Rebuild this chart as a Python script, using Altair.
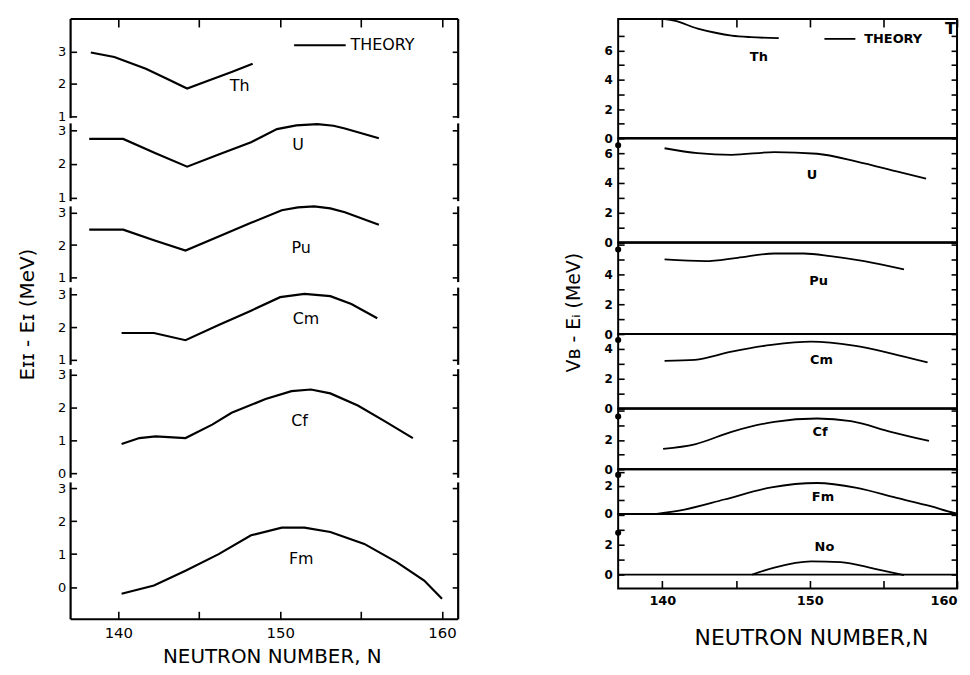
import altair as alt
import pandas as pd

FONT = "DejaVu Sans"

x_ticks = [140, 145, 150, 155, 160]

# ---------------- Left panel: E_II - E_I (MeV) ----------------
th_l_n = [138.3, 139.75, 141.7, 143.0, 144.25, 145.5, 147.0, 148.3]
th_l_e = [2.97, 2.83, 2.47, 2.16, 1.86, 2.09, 2.37, 2.62]
u_l_n = [138.2, 140.3, 142.3, 144.25, 146.2, 148.2, 149.8, 151.0, 152.3, 153.3, 154.0, 156.1]
u_l_e = [2.74, 2.74, 2.32, 1.92, 2.28, 2.64, 3.03, 3.14, 3.18, 3.13, 3.05, 2.76]
pu_l_n = [138.2, 140.3, 142.2, 144.15, 146.2, 148.2, 150.1, 151.1, 152.1, 153.1, 154.0, 156.1]
pu_l_e = [2.48, 2.48, 2.15, 1.83, 2.27, 2.69, 3.08, 3.17, 3.2, 3.14, 3.02, 2.63]
cm_l_n = [140.2, 142.2, 144.15, 146.2, 148.2, 150.0, 151.5, 153.1, 154.4, 156.0]
cm_l_e = [1.82, 1.82, 1.6, 2.06, 2.5, 2.91, 3.01, 2.94, 2.7, 2.27]
cf_l_n = [140.2, 141.3, 142.3, 144.15, 145.8, 147.0, 149.1, 150.7, 151.9, 153.1, 154.8, 156.4, 158.2]
cf_l_e = [0.89, 1.07, 1.12, 1.07, 1.48, 1.84, 2.26, 2.5, 2.55, 2.43, 2.06, 1.6, 1.07]
fm_l_n = [140.2, 142.2, 144.15, 146.2, 148.2, 150.1, 151.5, 153.1, 155.2, 157.2, 158.9, 160.0]
fm_l_e = [-0.2, 0.05, 0.5, 1.0, 1.57, 1.8, 1.8, 1.67, 1.31, 0.76, 0.2, -0.35]

left_names = ["Th", "U", "Pu", "Cm", "Cf", "Fm"]
left_label_n = [147.5, 151.1, 151.3, 151.6, 151.2, 151.3]
left_label_e = [1.94, 2.55, 1.92, 2.23, 1.58, 0.84]
left_lo = [0.85, 0.82, 0.75, 0.79, -0.21, -0.97]
left_hi = [4.0, 3.26, 3.28, 3.27, 3.24, 3.24]
left_yticks = [[1, 2, 3], [1, 2, 3], [1, 2, 3], [1, 2, 3], [0, 1, 2, 3], [0, 1, 2, 3]]
left_frame_lo = [0.95, 0.9, 0.85, 0.85, -0.14, -0.97]
left_frame_hi = [4.0, 3.2, 3.2, 3.2, 3.17, 3.17]
left_theory_n = [150.86, 154.05]
left_theory_e = [3.19]
left_theory_text_n = [154.35]

# ---------------- Right panel: V_B - E_i (MeV) ----------------
th_r_n = [140.15, 140.8, 142.4, 143.6, 144.7, 146.0, 147.9]
th_r_v = [8.15, 8.05, 7.5, 7.22, 7.03, 6.92, 6.85]
u_r_n = [140.15, 142.4, 144.7, 147.6, 150.5, 153.2, 155.9, 157.9]
u_r_v = [6.33, 6.0, 5.89, 6.07, 5.96, 5.44, 4.78, 4.29]
pu_r_n = [140.15, 142.9, 145.1, 147.6, 149.6, 151.4, 153.7, 156.4]
pu_r_v = [5.0, 4.89, 5.11, 5.4, 5.4, 5.23, 4.89, 4.33]
cm_r_n = [140.15, 142.2, 144.7, 147.4, 150.1, 153.0, 155.5, 158.0]
cm_r_v = [3.2, 3.27, 3.82, 4.27, 4.49, 4.22, 3.71, 3.09]
cf_r_n = [140.05, 142.2, 144.7, 147.6, 150.5, 152.8, 155.5, 158.1]
cf_r_v = [1.39, 1.7, 2.56, 3.24, 3.47, 3.29, 2.56, 1.93]
fm_r_n = [139.6, 141.5, 144.2, 147.4, 150.5, 153.2, 155.9, 158.2, 159.8, 160.0]
fm_r_v = [0.0, 0.31, 1.03, 1.9, 2.21, 1.86, 1.14, 0.55, 0.07, 0.03]
no_r_n = [146.1, 147.6, 150.1, 152.1, 154.35, 156.4]
no_r_v = [0.0, 0.47, 0.89, 0.84, 0.4, -0.04]

right_names = ["Th", "U", "Pu", "Cm", "Cf", "Fm", "No"]
right_label_n = [146.55, 150.15, 150.6, 150.8, 150.7, 150.9, 151.0]
right_label_v = [5.58, 4.55, 3.58, 3.27, 2.56, 1.19, 1.84]
right_lo = [0.0, 0.0, 0.0, 0.0, 0.0, 0.0, -0.93]
right_hi = [8.16, 7.0, 6.13, 5.0, 4.15, 3.2, 4.07]
right_yticks = [[0, 1, 2, 3, 4, 5, 6, 7], [0, 1, 2, 3, 4, 5, 6], [0, 1, 2, 3, 4, 5, 6],
                [0, 1, 2, 3, 4], [0, 1, 2, 3, 4], [0, 1, 2, 3], [0, 1, 2, 3, 4]]
right_ylabels = [[0, 2, 4, 6], [0, 2, 4, 6], [0, 2, 4], [0, 2, 4], [0, 2], [0, 2], [0, 2]]
right_dots = [None, 6.53, 5.67, 4.6, 3.6, 2.79, 2.8]
right_theory_n = [151.0, 153.1]
right_theory_v = [6.8]
right_theory_text_n = [153.7]
right_extra_text = ["T"]
right_extra_n = [159.55]
right_extra_v = [7.45]

# ---------------- layout sizes (pixels) ----------------
LEFT_W = 390
LEFT_XDOM = [137.05, 161.0]
left_heights = [103, 83, 82, 82, 114, 140]
RIGHT_W = 341
RIGHT_XDOM = [137.0, 160.0]
right_heights = [120, 105, 92, 75, 61, 45, 75]

TICK = 6
XTICK = 8


def y_axis(orient, ticks, labels, size, bold, pad, title=None, title_y=None,
           title_size=18, title_pad=20):
    kw = dict(orient=orient, values=ticks, domain=False, grid=False,
              tickSize=TICK, offset=-TICK, tickColor="black", tickWidth=1.6)
    if orient == "left":
        expr = ("indexof([" + ",".join(str(t) for t in labels) +
                "], datum.value) >= 0 ? datum.label : ''")
        kw.update(labelExpr=expr, labelFont=FONT, labelFontSize=size,
                  labelFontWeight="bold" if bold else "normal",
                  labelColor="black", labelPadding=pad, labelOverlap=False)
    else:
        kw.update(labels=False)
    if title:
        kw.update(title=title, titleFont=FONT, titleFontSize=title_size,
                  titleFontWeight="normal", titleColor="black",
                  titlePadding=title_pad, titleY=title_y)
    else:
        kw.update(title=None)
    return alt.Axis(**kw)


def x_axis_bottom(size, bold, pad, title, title_size, title_pad, title_x, flush):
    return alt.Axis(orient="bottom", values=x_ticks,
                    labelExpr="datum.value % 10 == 0 ? datum.label : ''",
                    domain=False, grid=False, tickSize=XTICK, offset=-XTICK,
                    tickColor="black", tickWidth=1.6, labelFont=FONT,
                    labelFontSize=size, labelFontWeight="bold" if bold else "normal",
                    labelColor="black", labelPadding=pad, labelOverlap=False,
                    labelFlush=flush,
                    title=title, titleFont=FONT, titleFontSize=title_size,
                    titleFontWeight="normal", titleColor="black",
                    titlePadding=title_pad, titleX=title_x, titleAlign="center")


def x_axis_top():
    return alt.Axis(orient="top", values=x_ticks, labels=False, domain=False,
                    grid=False, tickSize=XTICK, offset=-XTICK, tickColor="black",
                    tickWidth=1.6, title=None)


def panel(n, v, name, lab_n, lab_v, lo, hi, xdom, xaxis_b, xaxis_t,
          yaxis_l, yaxis_r, lw, interp, clip, text_size, text_bold, extras):
    xs = alt.Scale(domain=xdom, nice=False, zero=False)
    ys = alt.Scale(domain=[lo, hi], nice=False, zero=False)
    line = alt.Chart(pd.DataFrame({"N": n, "E": v})).mark_line(
        color="black", strokeWidth=lw, interpolate=interp, clip=clip
    ).encode(
        x=alt.X("N:Q", scale=xs, axis=xaxis_b),
        y=alt.Y("E:Q", scale=ys, axis=yaxis_l),
    )
    label = alt.Chart(pd.DataFrame({"N": [lab_n], "E": [lab_v], "t": [name]})).mark_text(
        font=FONT, fontSize=text_size, fontWeight="bold" if text_bold else "normal",
        color="black", align="center", baseline="middle"
    ).encode(
        x=alt.X("N:Q", scale=xs, axis=xaxis_t),
        y=alt.Y("E:Q", scale=ys, axis=yaxis_r),
        text="t:N",
    )
    layers = [line, label] + [f(xs, ys) for f in extras]
    return alt.layer(*layers).resolve_axis(x="independent", y="independent")


def vrules(xvals, ylo, yhi, lw):
    def f(xs, ys):
        df = pd.DataFrame({"x": xvals, "y": [ylo] * len(xvals), "y2": [yhi] * len(xvals)})
        return alt.Chart(df).mark_rule(color="black", strokeWidth=lw).encode(
            x=alt.X("x:Q", scale=xs, axis=None),
            y=alt.Y("y:Q", scale=ys, axis=None),
            y2="y2:Q",
        )
    return f


def hrule(yval, lw):
    def f(xs, ys):
        return alt.Chart(pd.DataFrame({"y": [yval]})).mark_rule(
            color="black", strokeWidth=lw
        ).encode(y=alt.Y("y:Q", scale=ys, axis=None))
    return f


def legend(n_pair, yv, text_n, size, bold, lw):
    def f(xs, ys):
        seg = alt.Chart(pd.DataFrame({"N": [n_pair[0]], "N2": [n_pair[1]], "E": [yv]})).mark_rule(
            color="black", strokeWidth=lw
        ).encode(x=alt.X("N:Q", scale=xs, axis=None), x2="N2:Q",
                 y=alt.Y("E:Q", scale=ys, axis=None))
        txt = alt.Chart(pd.DataFrame({"N": [text_n], "E": [yv], "t": ["THEORY"]})).mark_text(
            font=FONT, fontSize=size, fontWeight="bold" if bold else "normal",
            color="black", align="left", baseline="middle"
        ).encode(x=alt.X("N:Q", scale=xs, axis=None),
                 y=alt.Y("E:Q", scale=ys, axis=None), text="t:N")
        return alt.layer(seg, txt)
    return f


def free_text(texts, ns, vs, size):
    def f(xs, ys):
        return alt.Chart(pd.DataFrame({"N": ns, "E": vs, "t": texts})).mark_text(
            font=FONT, fontSize=size, fontWeight="bold", color="black",
            align="center", baseline="middle"
        ).encode(x=alt.X("N:Q", scale=xs, axis=None),
                 y=alt.Y("E:Q", scale=ys, axis=None), text="t:N")
    return f


def dot(xv, yv):
    def f(xs, ys):
        return alt.Chart(pd.DataFrame({"N": [xv], "E": [yv]})).mark_circle(
            size=38, color="black", opacity=1
        ).encode(x=alt.X("N:Q", scale=xs, axis=None),
                 y=alt.Y("E:Q", scale=ys, axis=None))
    return f


# ---------------- build left panel ----------------
left_curves = [(th_l_n, th_l_e), (u_l_n, u_l_e), (pu_l_n, pu_l_e),
               (cm_l_n, cm_l_e), (cf_l_n, cf_l_e), (fm_l_n, fm_l_e)]
left_subs = []
for i, (n, e) in enumerate(left_curves):
    first = i == 0
    last = i == len(left_curves) - 1
    title = "E\u026a\u026a  -  E\u026a  (MeV)" if i == 3 else None
    yl = y_axis("left", left_yticks[i], left_yticks[i], 13, False, 5,
                title=title, title_y=29, title_size=20, title_pad=20)
    yr = y_axis("right", left_yticks[i], [], 13, False, 5)
    xb = x_axis_bottom(15, False, 6, "NEUTRON  NUMBER, N", 20, 7, 202.5, True) if last else None
    xt = x_axis_top() if first else None
    extras = [vrules([LEFT_XDOM[0], LEFT_XDOM[1]], left_frame_lo[i], left_frame_hi[i], 2.2)]
    if first:
        extras.append(hrule(left_hi[i], 2.2))
        extras.append(legend(left_theory_n, left_theory_e[0], left_theory_text_n[0], 16, False, 2))
    if last:
        extras.append(hrule(left_lo[i], 2.2))
    sub = panel(n, e, left_names[i], left_label_n[i], left_label_e[i], left_lo[i], left_hi[i],
                LEFT_XDOM, xb, xt, yl, yr, 2.2, "linear", False,
                16, False, extras).properties(width=LEFT_W, height=left_heights[i])
    left_subs.append(sub)

left = alt.vconcat(*left_subs, spacing=0, bounds="flush")

# ---------------- build right panel ----------------
right_curves = [(th_r_n, th_r_v), (u_r_n, u_r_v), (pu_r_n, pu_r_v), (cm_r_n, cm_r_v),
                (cf_r_n, cf_r_v), (fm_r_n, fm_r_v), (no_r_n, no_r_v)]
right_subs = []
for i, (n, e) in enumerate(right_curves):
    first = i == 0
    last = i == len(right_curves) - 1
    title = "V\u0299  -  E\u1d62  (MeV)" if i == 2 else None
    yl = y_axis("left", right_yticks[i], right_ylabels[i], 12, True, 6,
                title=title, title_y=70, title_size=19, title_pad=21)
    yr = y_axis("right", right_yticks[i], [], 12, True, 6)
    xb = x_axis_bottom(13, True, 6, "NEUTRON NUMBER,N", 22, 20, 194, True) if last else None
    xt = x_axis_top() if first else None
    extras = [hrule(0.0, 1.8)]
    if right_dots[i] is not None:
        extras.append(dot(RIGHT_XDOM[0], right_dots[i]))
    if first:
        extras.append(legend(right_theory_n, right_theory_v[0], right_theory_text_n[0], 13, True, 1.8))
        extras.append(free_text(right_extra_text, right_extra_n, right_extra_v, 16))
    sub = panel(n, e, right_names[i], right_label_n[i], right_label_v[i], right_lo[i], right_hi[i],
                RIGHT_XDOM, xb, xt, yl, yr, 1.8, "monotone", first,
                13, True, extras).properties(
        width=RIGHT_W, height=right_heights[i],
        view=alt.ViewBackground(stroke="black", strokeWidth=2))
    right_subs.append(sub)

right = alt.vconcat(*right_subs, spacing=0, bounds="flush")

chart = alt.hconcat(left, right, spacing=103).properties(
    padding={"left": 9, "top": 7, "right": 0, "bottom": 0},
    background="white",
).configure_view(stroke="transparent")

chart.save("out.html", embed_options={"renderer": "svg", "actions": False})
